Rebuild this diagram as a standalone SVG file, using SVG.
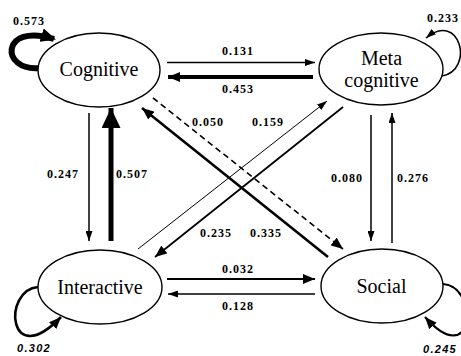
<svg xmlns="http://www.w3.org/2000/svg" width="461" height="356" viewBox="0 0 461 356">
<style>
.node ellipse{fill:#fff;stroke:#000;stroke-width:1.4}
.node text{font-family:"Liberation Serif","Times New Roman",serif;font-size:20px;text-anchor:middle;fill:#000}
.edge{fill:none;stroke:#000}
.lbl{font-family:"Liberation Serif","Times New Roman",serif;font-size:12px;font-weight:bold;letter-spacing:1px;fill:#000}
.lbli{font-family:"Liberation Sans",Arial,sans-serif;font-size:11px;font-weight:bold;font-style:italic;letter-spacing:1.3px;fill:#000}
</style>
<defs>
<marker id="ah" markerUnits="userSpaceOnUse" markerWidth="10" markerHeight="7" refX="10" refY="3.5" orient="auto"><path d="M0,0 L10,3.5 L0,7 z" fill="#000"/></marker>
<marker id="ahm" markerUnits="userSpaceOnUse" markerWidth="12" markerHeight="10" refX="12" refY="5" orient="auto"><path d="M0,0 L12,5 L0,10 z" fill="#000"/></marker>
<marker id="ahl" markerUnits="userSpaceOnUse" markerWidth="20" markerHeight="19" refX="20" refY="9.5" orient="auto"><path d="M0,0 L20,9.5 L0,19 z" fill="#000"/></marker>
<marker id="ahc" markerUnits="userSpaceOnUse" markerWidth="15" markerHeight="14" refX="13" refY="7" orient="auto"><path d="M0,0 L15,7 L0,14 z" fill="#000"/></marker>
</defs>
<g id="connectors">
<path class="edge" d="M40,68 C0,72 0,22 54,39" stroke-width="6" marker-end="url(#ahc)"/>
<path class="edge" d="M442,76 C475,70 460,10 426,38" stroke-width="1.5" marker-end="url(#ah)"/>
<path class="edge" d="M38,287 C2,290 8,372 61,317" stroke-width="2.6" marker-end="url(#ahm)"/>
<path class="edge" d="M443,284 C480,287 474,372 425,317" stroke-width="2.2" marker-end="url(#ahm)"/>
<path class="edge" d="M167,62.5 L315,62.5" stroke-width="1.3" marker-end="url(#ah)"/>
<path class="edge" d="M313,77 L168,77" stroke-width="4" marker-end="url(#ahm)"/>
<path class="edge" d="M167,279 L315,279" stroke-width="2" marker-end="url(#ahm)"/>
<path class="edge" d="M315,294 L168,294" stroke-width="1.3" marker-end="url(#ah)"/>
<path class="edge" d="M89,113 L89,241" stroke-width="1.5" marker-end="url(#ah)"/>
<path class="edge" d="M111,241 L111,108" stroke-width="5" marker-end="url(#ahl)"/>
<path class="edge" d="M371,115 L371,241" stroke-width="1.5" marker-end="url(#ah)"/>
<path class="edge" d="M392,243 L392,113" stroke-width="1.5" marker-end="url(#ah)"/>
<path class="edge" d="M153,98 L343,249" stroke-width="1.6" stroke-dasharray="6,4" marker-end="url(#ahm)"/>
<path class="edge" d="M328,257 L142,108" stroke-width="2.6" marker-end="url(#ahm)"/>
<path class="edge" d="M138,249 L327,101" stroke-width="1" marker-end="url(#ah)"/>
<path class="edge" d="M343,107 L155,257" stroke-width="1.8" marker-end="url(#ahm)"/>
</g>
<g id="labels">
<text class="lbl" x="13" y="25">0.573</text>
<text class="lbl" x="427" y="22">0.233</text>
<text class="lbl" x="222" y="55">0.131</text>
<text class="lbl" x="222" y="93">0.453</text>
<text class="lbl" x="192" y="126">0.050</text>
<text class="lbl" x="252" y="126">0.159</text>
<text class="lbl" x="47" y="178">0.247</text>
<text class="lbl" x="116" y="178">0.507</text>
<text class="lbl" x="331" y="182">0.080</text>
<text class="lbl" x="397" y="182">0.276</text>
<text class="lbl" x="200" y="237">0.235</text>
<text class="lbl" x="250" y="237">0.335</text>
<text class="lbl" x="222" y="273">0.032</text>
<text class="lbl" x="222" y="310">0.128</text>
<text class="lbli" x="17" y="352">0.302</text>
<text class="lbli" x="423" y="353">0.245</text>
</g>
<g id="cognitive" class="node"><ellipse cx="99" cy="70" rx="61" ry="37"/><text x="99" y="76">Cognitive</text></g>
<g id="metacognitive" class="node"><ellipse cx="381" cy="69" rx="62" ry="36"/><text x="381.5" y="65">Meta</text><text x="381.5" y="87">cognitive</text></g>
<g id="interactive" class="node"><ellipse cx="100" cy="287" rx="62" ry="37"/><text x="100" y="294">Interactive</text></g>
<g id="social" class="node"><ellipse cx="382" cy="286" rx="61" ry="37"/><text x="381.5" y="293">Social</text></g>
</svg>
